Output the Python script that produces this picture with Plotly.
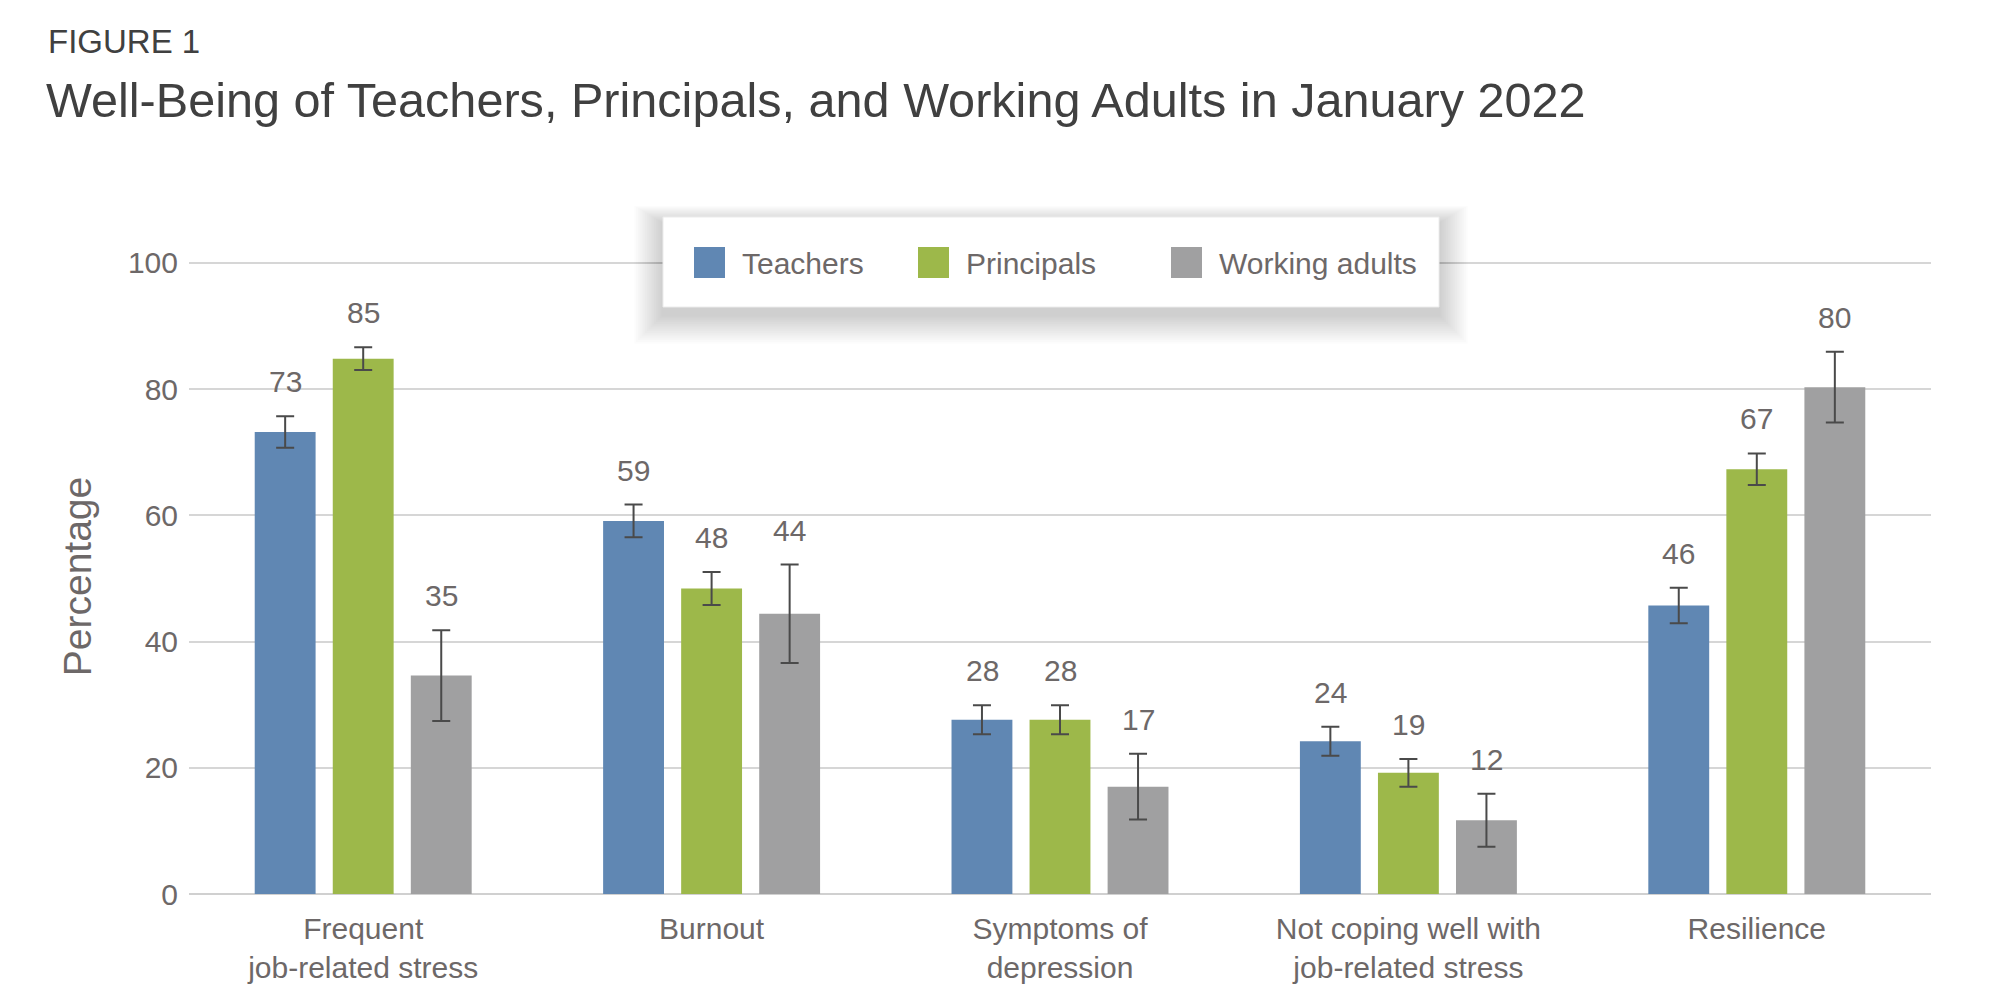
import plotly.graph_objects as go

categories = ["Frequent<br>job-related stress", "Burnout", "Symptoms of<br>depression",
              "Not coping well with<br>job-related stress", "Resilience"]
series_names = ["Teachers", "Principals", "Working adults"]

teachers = [73.2, 59.1, 27.6, 24.2, 45.7]
teachers_err = [2.5, 2.6, 2.3, 2.3, 2.8]
teachers_labels = ["73", "59", "28", "24", "46"]

principals = [84.8, 48.4, 27.6, 19.2, 67.3]
principals_err = [1.8, 2.6, 2.3, 2.2, 2.5]
principals_labels = ["85", "48", "28", "19", "67"]

adults = [34.6, 44.4, 17.0, 11.7, 80.3]
adults_err = [7.2, 7.8, 5.2, 4.2, 5.6]
adults_labels = ["35", "44", "17", "12", "80"]

y_ticks = [0, 20, 40, 60, 80, 100]

colors = ["#6087b3", "#9db84a", "#a0a0a1"]
FONT = "Liberation Sans, Arial, sans-serif"
GRAY_TEXT = "#6d6868"

# layout geometry (pixels)
W, H = 2000, 1000
Y_MAX = 100.6
L, R, T, B = 189, 69, 259, 106
PW, PH = W - L - R, H - T - B


def px_x(p):
    return (p - L) / PW


def px_y(p):
    return (H - B - p) / PH


fig = go.Figure()
all_vals = [teachers, principals, adults]
all_errs = [teachers_err, principals_err, adults_err]
all_labels = [teachers_labels, principals_labels, adults_labels]

for name, vals, errs, col in zip(series_names, all_vals, all_errs, colors):
    fig.add_trace(go.Bar(
        name=name, x=categories, y=vals, marker_color=col,
        marker_line_width=0,
        error_y=dict(type="data", array=errs, visible=True, color="#4a4a4a",
                     thickness=2, width=9),
        showlegend=False,
    ))

annotations = []
shifts = [-78, 0, 78]
for vals, errs, labs, xs in zip(all_vals, all_errs, all_labels, shifts):
    for c, v, e, lab in zip(categories, vals, errs, labs):
        annotations.append(dict(
            x=c, y=v + e, xref="x", yref="y", text=lab, showarrow=False,
            xshift=xs, yshift=16, yanchor="bottom",
            font=dict(family=FONT, size=30, color=GRAY_TEXT),
        ))

# title texts
annotations.append(dict(
    text="FIGURE 1", xref="paper", yref="paper", x=px_x(46), y=px_y(62),
    xanchor="left", yanchor="bottom", showarrow=False,
    font=dict(family=FONT, size=33, color="#404040"),
))
annotations.append(dict(
    text="Well-Being of Teachers, Principals, and Working Adults in January 2022",
    xref="paper", yref="paper", x=px_x(44), y=px_y(129),
    xanchor="left", yanchor="bottom", showarrow=False,
    font=dict(family=FONT, size=48.6, color="#404040"),
))

shapes = []
# legend box soft shadow
bx0, bx1, by0, by1 = 663, 1439, 217, 307
for i in range(16, 0, -1):
    s = i * 1.8
    shapes.append(dict(
        type="rect", xref="paper", yref="paper", layer="above",
        x0=px_x(bx0 - s), x1=px_x(bx1 + s), y0=px_y(by0 - s * 0.6 + 6), y1=px_y(by1 + s + 8),
        fillcolor="rgba(0,0,0,0.012)", line_width=0,
    ))
shapes.append(dict(
    type="rect", xref="paper", yref="paper", layer="above",
    x0=px_x(bx0), x1=px_x(bx1), y0=px_y(by0), y1=px_y(by1),
    fillcolor="white", line=dict(color="#ececec", width=1),
))
# legend items
item_x = [694, 918, 1171]
for name, col, ix in zip(series_names, colors, item_x):
    shapes.append(dict(
        type="rect", xref="paper", yref="paper", layer="above",
        x0=px_x(ix), x1=px_x(ix + 31), y0=px_y(247), y1=px_y(278),
        fillcolor=col, line_width=0,
    ))
    annotations.append(dict(
        text=name, xref="paper", yref="paper", x=px_x(ix + 46), y=px_y(263),
        xanchor="left", yanchor="middle", showarrow=False,
        font=dict(family=FONT, size=30, color=GRAY_TEXT),
    ))

fig.update_layout(
    width=W, height=H,
    margin=dict(l=L, r=R, t=T, b=B, autoexpand=False),
    paper_bgcolor="white", plot_bgcolor="white",
    barmode="group", bargap=0.328, bargroupgap=0.22,
    font=dict(family=FONT, color=GRAY_TEXT),
    annotations=annotations, shapes=shapes,
    xaxis=dict(
        tickfont=dict(size=30, color=GRAY_TEXT, family=FONT),
        showgrid=False, showline=False, ticks="", ticklabelstandoff=14,
    ),
    yaxis=dict(
        range=[0, Y_MAX], tickvals=y_ticks, ticktext=[str(t) for t in y_ticks],
        tickfont=dict(size=30, color=GRAY_TEXT, family=FONT),
        showgrid=True, gridcolor="#d6d6d6", gridwidth=2,
        zeroline=True, zerolinecolor="#d0d0d0", zerolinewidth=2,
        showline=False, ticks="", ticklabelstandoff=10,
        title=dict(text="Percentage", standoff=24,
                   font=dict(size=39, color=GRAY_TEXT, family=FONT)),
    ),
)

fig.write_html("out.html")
